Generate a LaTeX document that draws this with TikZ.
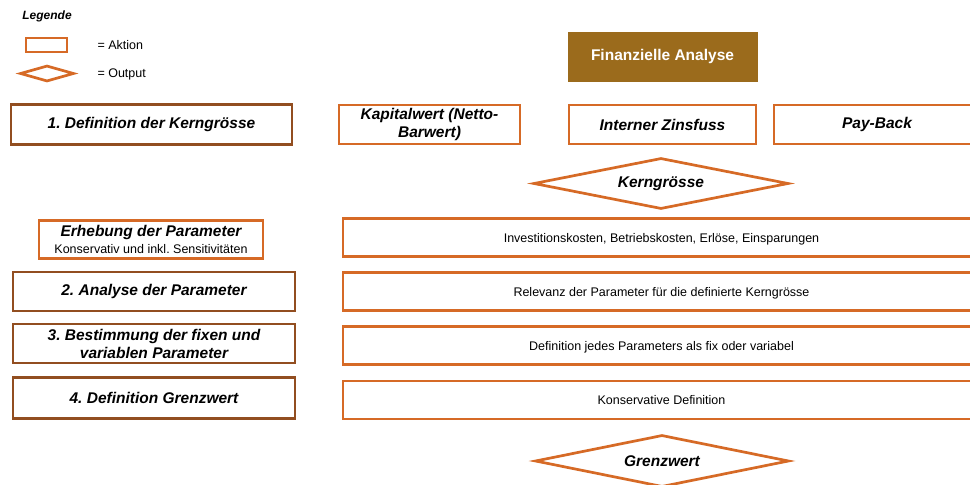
\documentclass[tikz,border=0pt]{standalone}
\usepackage{fontspec}
\setmainfont{Liberation Sans}
\usetikzlibrary{shapes.geometric}

\definecolor{orangeline}{RGB}{214,106,38}
\definecolor{brownline}{RGB}{146,78,32}
\definecolor{goldfill}{RGB}{155,107,28}

\newcommand{\fontstep}{\fontsize{15.5}{19}\selectfont\bfseries\itshape}
\newcommand{\fontbody}{\normalfont\fontsize{12.5}{15}\selectfont}

\frenchspacing

\begin{document}
\begin{tikzpicture}[x=1pt,y=-1pt]

	% frame of the picture
	\useasboundingbox (0,0) rectangle (970,485);
	
	% sizes
	\newcommand{\colw}{637pt}				% width of the right column boxes
	\newcommand{\rowh}{38pt}				% height of one row box
	
	% styles
	\tikzstyle{aktionbox}=[draw=orangeline,line width=2.5pt,fill=white,align=center,inner sep=1pt];
	\tikzstyle{stepbox}=[draw=brownline,line width=2.5pt,fill=white,align=center,inner sep=1pt,font=\fontstep];
	\tikzstyle{outputbox}=[diamond,shape aspect=5,draw=orangeline,line width=2.7pt,fill=white,inner sep=0pt,font=\fontstep];
	\tikzstyle{rowbox}=[aktionbox,minimum width=\colw,minimum height=\rowh,font=\fontbody,text depth=0pt];
	
	% LEGEND
	\node[font=\fontsize{12}{14}\selectfont\bfseries\itshape] (legende) at (47,16) {Legende};
	\node[aktionbox,minimum width=41pt,minimum height=14pt] (legaktion) at (46.5,45) {};
	\node[anchor=west,font=\fontbody] (legaktiontext) at (94,45.5) {= Aktion};
	\node[outputbox,minimum width=54pt,minimum height=16pt] (legoutput) at (47,73.5) {};
	\node[anchor=west,font=\fontbody] (legoutputtext) at (94,74) {= Output};
	
	% header
	\node[fill=goldfill,draw=goldfill,minimum width=189pt,minimum height=49pt,text=white,font=\fontsize{15.5}{19}\selectfont\bfseries] (finanz) at (662.5,56.5) {Finanzielle Analyse};
	
	% step 1 and the three key figures
	\node[stepbox,minimum width=281pt,minimum height=40pt] (step1) at (151.5,124.5) {1. Definition der Kerngrösse};
	\node[aktionbox,font=\fontstep,minimum width=181pt,minimum height=39pt] (kapital) at (429.5,124.5) {Kapitalwert (Netto-\\[-1pt]Barwert)};
	\node[aktionbox,font=\fontstep,minimum width=187pt,minimum height=39pt] (zinsfuss) at (662.5,124.5) {Interner Zinsfuss};
	\node[aktionbox,font=\fontstep,minimum width=206pt,minimum height=39pt] (payback) at (877,124.5) {Pay-Back};
	
	\node[outputbox,minimum width=255pt,minimum height=51pt] (kerngroesse) at (661,183.5) {Kerngrösse};
	
	% parameters
	\node[aktionbox,font=\fontstep,minimum width=224pt,minimum height=38pt] (erhebung) at (151,239.5) {Erhebung der Parameter\\[-1.5pt]{\fontbody Konservativ und inkl. Sensitivitäten}};
	\node[rowbox] (kosten) at (661.5,237.5) {Investitionskosten, Betriebskosten, Erlöse, Einsparungen};
	
	\node[stepbox,minimum width=282pt,minimum height=39pt] (step2) at (154,291.5) {2. Analyse der Parameter};
	\node[rowbox] (relevanz) at (661.5,291.5) {Relevanz der Parameter für die definierte Kerngrösse};
	
	\node[stepbox,minimum width=282pt,minimum height=39pt] (step3) at (154,343.5) {3. Bestimmung der fixen und\\[-1pt]variablen Parameter};
	\node[rowbox] (fixvar) at (661.5,345.5) {Definition jedes Parameters als fix oder variabel};
	
	\node[stepbox,minimum width=282pt,minimum height=41pt] (step4) at (154,398) {4. Definition Grenzwert};
	\node[rowbox] (konservativ) at (661.5,400) {Konservative Definition};
	
	\node[outputbox,minimum width=254pt,minimum height=52pt] (grenzwert) at (662,461) {Grenzwert};

\end{tikzpicture}
\end{document}
